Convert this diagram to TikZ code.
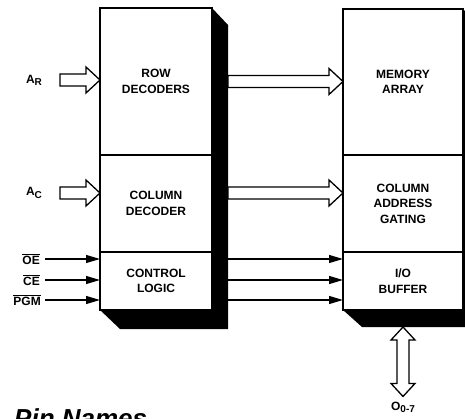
\documentclass[tikz,border=0pt]{standalone}
\usepackage{fontspec}
\setmainfont{Liberation Sans}
\usetikzlibrary{arrows.meta,calc,backgrounds,positioning}

\tikzset{
  block/.style={draw, line width=1.2pt, fill=white, outer sep=0pt, inner sep=0pt,
    align=center, font=\bfseries\fontsize{12}{15.5}\selectfont},
  leftblock/.style={block, minimum width=112pt},
  rightblock/.style={block, minimum width=120pt},
  pin/.style={font=\bfseries\fontsize{12}{14}\selectfont, inner sep=0pt},
  hollow/.style={draw, line width=1.3pt, fill=white, line join=miter},
  ctrlline/.style={line width=1.2pt, -{Triangle[length=14pt,width=8pt]}},
}

\newcommand\sub[1]{\raisebox{-0.35ex}{\fontsize{10}{12}\selectfont #1}}

\newcommand\fatarrow[2]{%
  \path[hollow] let \p1=#1, \p2=#2 in
    (\x1,{\y1+6pt}) -- ({\x2-14pt},{\y1+6pt}) -- ({\x2-14pt},{\y1+13pt})
    -- (\x2,\y1) -- ({\x2-14pt},{\y1-13pt}) -- ({\x2-14pt},{\y1-6pt})
    -- (\x1,{\y1-6pt}) -- cycle;}

\begin{document}
\begin{tikzpicture}[x=1pt,y=-1pt]
  \useasboundingbox (0,0) rectangle (465,419);
  \clip (0,0) rectangle (465,419);

  % left block
  \node[leftblock, minimum height=147pt] (row) at (156,81.5) {ROW\\DECODERS};
  \node[leftblock, minimum height=97pt, below=0pt of row] (coldec) {COLUMN\\DECODER};
  \node[leftblock, minimum height=58pt, below=0pt of coldec] (ctrl) {CONTROL\\LOGIC};

  % right block
  \node[rightblock, minimum height=146pt] (mem) at (403,82) {MEMORY\\ARRAY};
  \node[rightblock, minimum height=97pt, below=0pt of mem] (colgate) {COLUMN\\ADDRESS\\GATING};
  \node[rightblock, minimum height=58pt, below=0pt of colgate] (iobuf) {I/O\\BUFFER};

  % shadows
  \begin{scope}[on background layer]
    \fill (row.north east) -- ++(16,17) -- ($(ctrl.south east)+(16,19)$)
      -- ($(ctrl.south west)+(20,19)$) -- (ctrl.south west) -- cycle;
    \fill (mem.north east) -- ++(16,17) -- ($(iobuf.south east)+(16,17)$)
      -- ($(iobuf.south west)+(19,17)$) -- (iobuf.south west) -- cycle;
  \end{scope}
  \coordinate (lshadow) at ($(ctrl.east)+(16,0)$);

  % address inputs
  \node[pin] (ar) at (34,80) {A\sub{R}};
  \node[pin] (ac) at (34,193) {A\sub{C}};
  \coordinate (rtail) at (60,80);
  \coordinate (ctail) at (60,193);
  \fatarrow{(rtail)}{(row.west |- rtail)}
  \fatarrow{(ctail)}{(coldec.west |- ctail)}

  % block to block
  \fatarrow{(lshadow |- row.west)}{(mem.west |- row.west)}
  \fatarrow{(lshadow |- ac)}{(colgate.west |- ac)}

  % control pins
  \node[pin, anchor=east] (oe) at (40,259) {$\overline{\mbox{OE}}$};
  \node[pin, anchor=east] (ce) at (40,280) {$\overline{\mbox{CE}}$};
  \node[pin, anchor=east] (pgm) at (41,300) {$\overline{\mbox{PGM}}$};
  \foreach \p in {oe,ce,pgm} {
    \draw[ctrlline] (45,0 |- \p.east) -- (\p -| ctrl.west);
    \draw[ctrlline] (lshadow |- \p) -- (\p -| iobuf.west);
  }

  % data outputs
  \node[pin] (out) at (403,407) {O\sub{0-7}};
  \coordinate (otop) at ($(iobuf.south)+(0,17)$);
  \coordinate (obot) at ($(out.north)+(0,-5)$);
  \path[hollow] let \p1=(otop), \p2=(obot) in
    (\x1,\y1) -- ({\x1+12pt},{\y1-13pt}) -- ({\x1+6pt},{\y1-13pt})
    -- ({\x1+6pt},{\y2+13pt}) -- ({\x1+12pt},{\y2+13pt}) -- (\x1,\y2)
    -- ({\x1-12pt},{\y2+13pt}) -- ({\x1-6pt},{\y2+13pt})
    -- ({\x1-6pt},{\y1-13pt}) -- ({\x1-12pt},{\y1-13pt}) -- cycle;

  \node[anchor=north west, inner sep=0pt, font=\bfseries\itshape\fontsize{26}{30}\selectfont]
    (pinnames) at (14,408) {Pin Names};
\end{tikzpicture}
\end{document}
